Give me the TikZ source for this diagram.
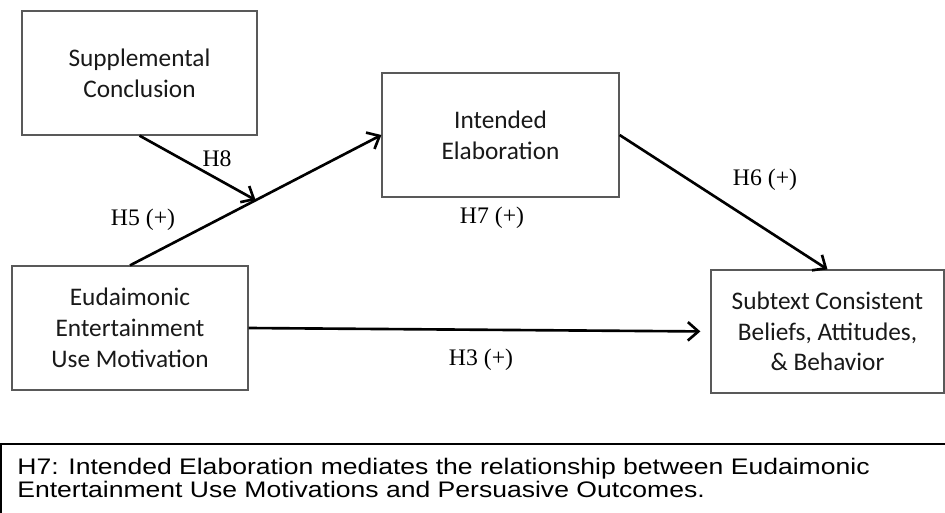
\documentclass[tikz,border=0pt]{standalone}
\usepackage{fontspec}
\setmainfont{Liberation Serif}
\newfontfamily\boxfont{Carlito}
\newfontfamily\notefont[FakeStretch=1.18]{Liberation Sans}
\usetikzlibrary{arrows.meta,positioning}

\begin{document}
\begin{tikzpicture}[
    construct/.style={rectangle, draw=black!65, line width=0.7pt, fill=white, minimum width=4.72cm, minimum height=2.48cm, align=center, text=black!90, font=\boxfont\fontsize{14.4pt}{17.5pt}\selectfont},
    hyp/.style={font=\fontsize{13.5pt}{16pt}\selectfont},
    arrow/.style={-{Straight Barb[length=6pt,width=10.5pt]}, line width=1.5pt}
]
    \useasboundingbox (0,0) rectangle (18.9,-10.24);
    \clip (0,0) rectangle (18.9,-10.24);

    % Constructs
    \node[construct, minimum width=4.7cm] (supp) at (2.79,-1.46) {Supplemental\\Conclusion};
    \node[construct, minimum width=4.74cm] (elab) at (10.01,-2.70) {Intended\\Elaboration};
    \node[construct] (eud) at (2.60,-6.56) {Eudaimonic\\Entertainment\\Use Motivation};
    \node[construct, minimum width=4.66cm, minimum height=2.46cm] (sub) at (16.55,-6.63) {Subtext Consistent\\Beliefs, Attitudes,\\\& Behavior};

    % Paths
    \draw[arrow] (eud.north) -- coordinate[pos=0.5] (mid) (elab.west);
    \draw[arrow] (supp.south) -- (mid);
    \draw[arrow] (elab.east) -- (sub.north);
    \draw[arrow, shorten >=0.2cm] (eud.east) -- (sub.west);

    % Hypotheses
    \node[hyp] (h8) at (4.34,-3.18) {H8};
    \node[hyp] (h5) at (2.86,-4.40) {H5 (+)};
    \node[hyp] (h7) at (9.84,-4.36) {H7 (+)};
    \node[hyp] (h6) at (15.30,-3.60) {H6 (+)};
    \node[hyp] (h3) at (9.62,-7.20) {H3 (+)};

    % Note
    \draw[line width=1.3pt] (0.026,-8.88) rectangle (19.5,-11);
    \node[anchor=north west, align=left, inner sep=0pt, font=\notefont\fontsize{12.8pt}{13pt}\selectfont] (note) at (0.34,-9.15) {H7: Intended Elaboration mediates the relationship between Eudaimonic\\Entertainment Use Motivations and Persuasive Outcomes.};
\end{tikzpicture}
\end{document}
